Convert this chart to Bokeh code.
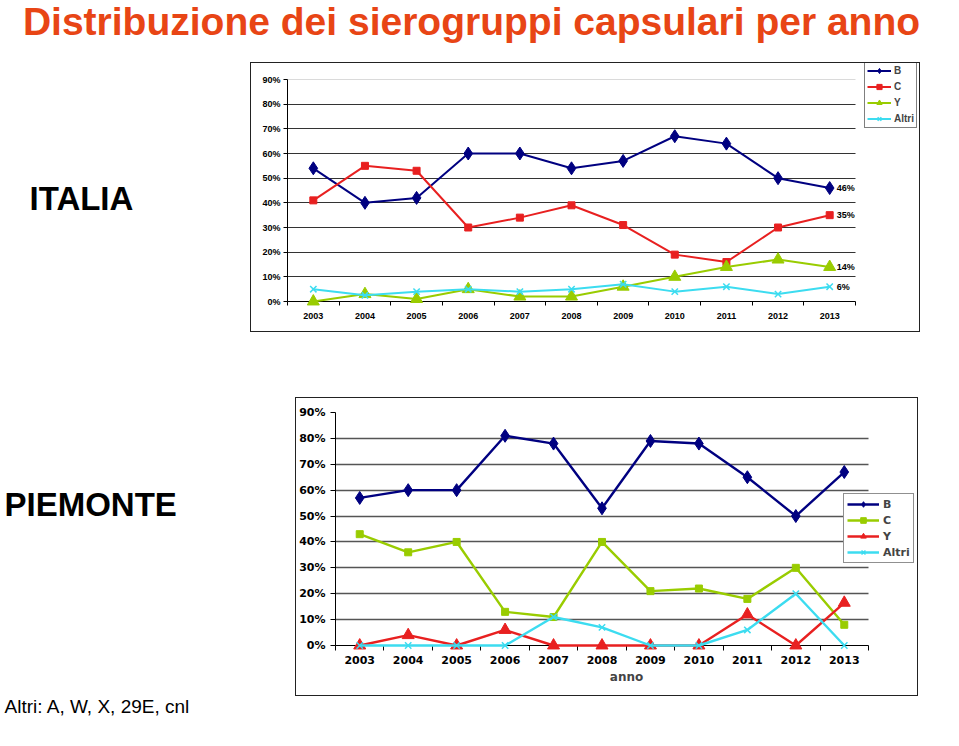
from bokeh.plotting import figure
from bokeh.models import (Range1d, FixedTicker, Legend, LegendItem, Label, LabelSet,
                          ColumnDataSource, Grid, Spacer, NumeralTickFormatter)
from bokeh.layouts import column, row
from bokeh.core.properties import value
from bokeh.embed import file_html
from bokeh.resources import INLINE

# ---------------- data ----------------
years = [2003, 2004, 2005, 2006, 2007, 2008, 2009, 2010, 2011, 2012, 2013]
year_labels = ["2003", "2004", "2005", "2006", "2007", "2008", "2009", "2010", "2011", "2012", "2013"]
pct_ticks = [0.0, 0.1, 0.2, 0.3, 0.4, 0.5, 0.6, 0.7, 0.8, 0.9]

series_names = ["B", "C", "Y", "Altri"]

ita_B = [0.54, 0.40, 0.42, 0.60, 0.60, 0.54, 0.57, 0.67, 0.64, 0.50, 0.46]
ita_C = [0.41, 0.55, 0.53, 0.30, 0.34, 0.39, 0.31, 0.19, 0.16, 0.30, 0.35]
ita_Y = [0.00, 0.03, 0.01, 0.05, 0.02, 0.02, 0.06, 0.10, 0.14, 0.17, 0.14]
ita_Altri = [0.05, 0.025, 0.04, 0.05, 0.04, 0.05, 0.07, 0.04, 0.06, 0.03, 0.06]
ita_end_labels = ["46%", "35%", "14%", "6%"]

pie_B = [0.57, 0.60, 0.60, 0.81, 0.78, 0.53, 0.79, 0.78, 0.65, 0.50, 0.67]
pie_C = [0.43, 0.36, 0.40, 0.13, 0.11, 0.40, 0.21, 0.22, 0.18, 0.30, 0.08]
pie_Y = [0.00, 0.04, 0.00, 0.06, 0.00, 0.00, 0.00, 0.00, 0.12, 0.00, 0.165]
pie_Altri = [0.00, 0.00, 0.00, 0.00, 0.11, 0.07, 0.00, 0.00, 0.06, 0.20, 0.00]

title_text = "Distribuzione dei sierogruppi capsulari per anno"
label_ita = "ITALIA"
label_pie = "PIEMONTE"
note_text = "Altri: A, W, X, 29E, cnl"
x_axis_title = "anno"

NAVY = "#000080"
RED = "#E82020"
GREEN = "#99CC00"
CYAN = "#3CDCF0"

HAS_CROSS = "cross_bounds" in Grid.properties()


def text_panel(w, h):
    f = figure(width=w, height=h, x_range=Range1d(0, w), y_range=Range1d(h, 0),
               output_backend="svg", toolbar_location=None, min_border=0, title=None,
               x_axis_location=None, y_axis_location=None)
    f.grid.visible = False
    f.outline_line_color = None
    return f


def chart(w, h, mb, data_w, data_h, font, fsize, grid_color, grid_width, border):
    frame_w = w - mb[0] - mb[1]
    frame_h = h - mb[2] - mb[3]
    x0 = years[0] - 0.5
    x1 = years[-1] + 0.5
    x_end = x0 + (x1 - x0) * frame_w / data_w
    y_end = pct_ticks[-1] * frame_h / data_h
    p = figure(width=w, height=h, x_range=Range1d(x0, x_end),
               y_range=Range1d(pct_ticks[0], y_end), title=None,
               output_backend="svg", toolbar_location=None,
               min_border_left=mb[0], min_border_right=mb[1],
               min_border_top=mb[2], min_border_bottom=mb[3],
               styles={"border": border})
    p.outline_line_color = None
    p.xgrid.visible = False
    if HAS_CROSS:
        p.ygrid.ticker = FixedTicker(ticks=pct_ticks[1:-1])
        p.ygrid.grid_line_color = grid_color
        p.ygrid.grid_line_width = grid_width
        p.ygrid.cross_bounds = (x0, x1)
        p.add_layout(Grid(dimension=1, ticker=FixedTicker(ticks=pct_ticks[-1:]),
                          cross_bounds=(x0, x1),
                          grid_line_color="#DADADA", grid_line_width=1))
    else:
        p.ygrid.visible = False
        gt = pct_ticks[1:-1]
        p.segment(x0=[x0] * len(gt), y0=gt, x1=[x1] * len(gt), y1=gt,
                  line_color=grid_color, line_width=grid_width, level="underlay")
        p.segment(x0=[x0], y0=pct_ticks[-1:], x1=[x1], y1=pct_ticks[-1:],
                  line_color="#DADADA", line_width=1, level="underlay")
    # x axis: labels at categories, ticks between categories
    xa = p.xaxis[0]
    xa.bounds = (x0, x1)
    xa.ticker = FixedTicker(ticks=years,
                            minor_ticks=[y - 0.5 for y in years] + [years[-1] + 0.5])
    xa.major_label_overrides = {y: l for y, l in zip(years, year_labels)}
    xa.major_tick_line_color = None
    xa.major_tick_out = 0
    xa.major_tick_in = 0
    xa.minor_tick_line_color = "black"
    xa.minor_tick_out = 4
    xa.minor_tick_in = 0
    xa.axis_line_color = "black"
    ya = p.yaxis[0]
    ya.bounds = (pct_ticks[0], pct_ticks[-1])
    ya.ticker = FixedTicker(ticks=pct_ticks)
    ya.formatter = NumeralTickFormatter(format="0%")
    ya.minor_tick_line_color = None
    ya.major_tick_out = 4
    ya.major_tick_in = 0
    ya.axis_line_color = "black"
    for ax in (xa, ya):
        ax.major_label_text_font = font
        ax.major_label_text_font_style = "bold"
        ax.major_label_text_font_size = fsize
        ax.major_label_text_color = "black"
    return p


def add_series(p, vals, color, marker, msize, lw=2):
    lr = p.line(years, vals, line_color=color, line_width=lw, level="overlay")
    if marker == "x":
        sr = p.scatter(years, vals, marker="x", size=msize, line_color=color,
                       line_width=1.5, level="overlay")
    else:
        sr = p.scatter(years, vals, marker=marker, size=msize, fill_color=color,
                       line_color=color, level="overlay")
    return [lr, sr]


# ---------------- title ----------------
tfig = text_panel(943, 62)
tfig.add_layout(Label(x=471, y=21, text=title_text, text_align="center",
                      text_baseline="alphabetic", text_font="Liberation Sans",
                      text_font_style="bold", text_font_size="39px", text_color="#E84515"))

# ---------------- ITALIA ----------------
left1 = text_panel(250, 272)
left1.add_layout(Label(x=29, y=154, text=label_ita, text_align="left", text_baseline="middle",
                       text_font="Liberation Sans", text_font_style="bold",
                       text_font_size="33px", text_color="black"))

p1 = chart(670, 270, (36, 3, 0, 32), 568, 222, "Liberation Sans", "9px", "#333333", 1,
           "1px solid #222222")
p1.xaxis[0].major_label_standoff = 7
p1.yaxis[0].major_label_standoff = 3
r1 = [add_series(p1, ita_B, NAVY, "diamond", 13),
      add_series(p1, ita_C, RED, "square", 7),
      add_series(p1, ita_Y, GREEN, "triangle", 12),
      add_series(p1, ita_Altri, CYAN, "x", 9)]
end_src = ColumnDataSource(dict(x=[years[-1]] * 4,
                                y=[ita_B[-1], ita_C[-1], ita_Y[-1], ita_Altri[-1]],
                                t=ita_end_labels))
p1.add_layout(LabelSet(x="x", y="y", text="t", source=end_src, x_offset=7,
                       text_baseline="middle", text_font=value("Liberation Sans"),
                       text_font_style="bold", text_font_size="9px", text_color="black"))
leg1 = Legend(items=[LegendItem(label=n, renderers=r) for n, r in zip(series_names, r1)],
              location=(577, 173), margin=0, padding=2, spacing=3,
              glyph_width=24, glyph_height=13, label_height=13, label_standoff=3,
              label_text_font="Liberation Sans", label_text_font_style="bold",
              label_text_font_size="10px", border_line_color="black", border_line_width=1,
              background_fill_color="white", background_fill_alpha=1)
p1.add_layout(leg1)

# ---------------- PIEMONTE ----------------
left2 = text_panel(295, 404)
left2.add_layout(Label(x=4, y=170, text=label_pie, text_align="left", text_baseline="middle",
                       text_font="Liberation Sans", text_font_style="bold",
                       text_font_size="33px", text_color="black"))
left2.add_layout(Label(x=4, y=372, text=note_text, text_align="left", text_baseline="middle",
                       text_font="Liberation Sans", text_font_size="19px", text_color="black"))

p2 = chart(623, 299, (39, 2, 14, 52), 533, 233, "DejaVu Sans", "11px", "#555555", 1.6,
           "1px solid #222222")
p2.xaxis[0].major_label_standoff = 5
p2.yaxis[0].major_label_standoff = 5
p2.yaxis[0].major_tick_out = 5
p2.xaxis[0].minor_tick_out = 5
p2.xaxis[0].axis_label = x_axis_title
p2.xaxis[0].axis_label_text_font = "DejaVu Sans"
p2.xaxis[0].axis_label_text_font_style = "bold"
p2.xaxis[0].axis_label_text_font_size = "12px"
p2.xaxis[0].axis_label_standoff = 3
r2 = [add_series(p2, pie_B, NAVY, "diamond", 13, 2.4),
      add_series(p2, pie_C, GREEN, "square", 7, 2.4),
      add_series(p2, pie_Y, RED, "triangle", 12, 2.4),
      add_series(p2, pie_Altri, CYAN, "x", 9, 2.4)]
leg2 = Legend(items=[LegendItem(label=n, renderers=r) for n, r in zip(series_names, r2)],
              location=(508, 82), margin=0, padding=3, spacing=2,
              glyph_width=32, glyph_height=14, label_height=14, label_standoff=4,
              label_text_font="DejaVu Sans", label_text_font_style="bold",
              label_text_font_size="11px", border_line_color="#222222", border_line_width=1.5,
              background_fill_color="white", background_fill_alpha=1)
p2.add_layout(leg2)

layout = column(
    tfig,
    row(left1, p1),
    row(left2, column(Spacer(width=625, height=63), p2, Spacer(width=625, height=40))),
)

open("out.html", "w").write(file_html(layout, INLINE))
